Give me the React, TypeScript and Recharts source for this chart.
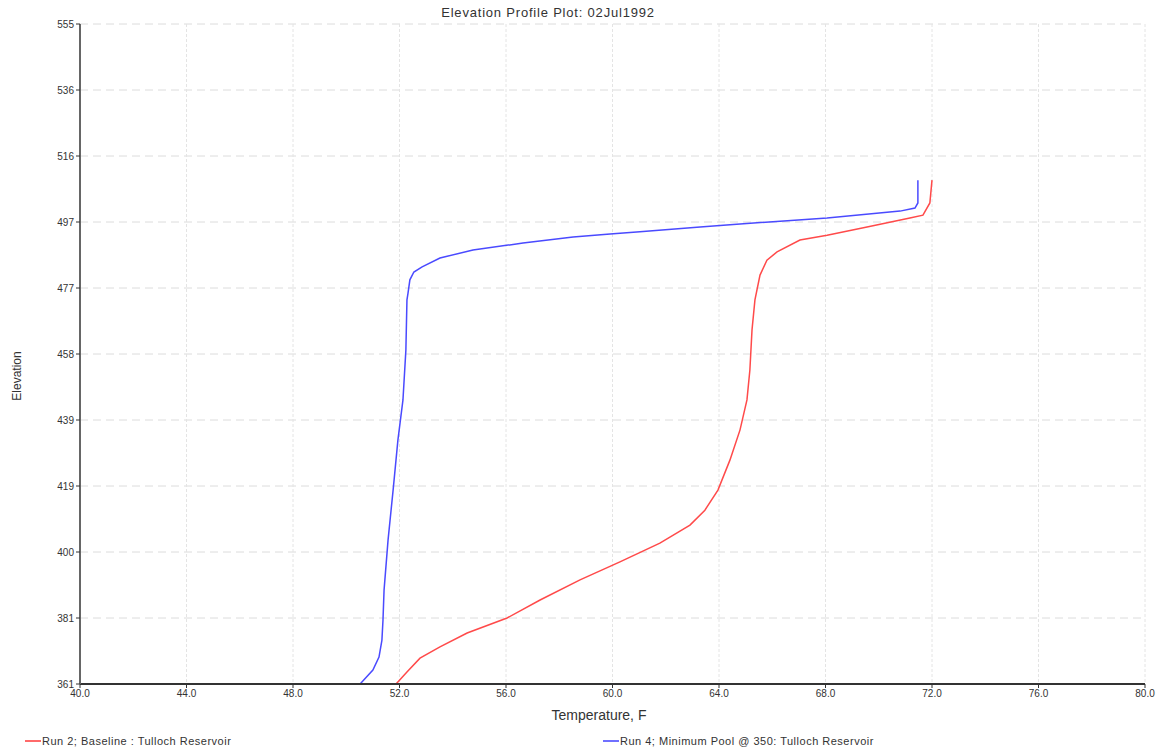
import React from 'react';
import { LineChart, Line, XAxis, YAxis, CartesianGrid } from 'recharts';

const xTicks = [40, 44, 48, 52, 56, 60, 64, 68, 72, 76, 80];
const yTickValues = [361, 380.4, 399.8, 419.2, 438.6, 458, 477.4, 496.8, 516.2, 535.6, 555];
const yTickLabels = ['361', '381', '400', '419', '439', '458', '477', '497', '516', '536', '555'];

// Run 4; Minimum Pool @ 350 (blue)
const run4Temp = [50.52, 51.0, 51.23, 51.34, 51.38, 51.42, 51.57, 51.76, 51.94, 52.13, 52.24, 52.28, 52.32, 52.39, 52.54, 52.85, 53.52, 54.76, 56.64, 58.52, 59.91, 61.03, 63.29, 64.79, 68.06, 70.8, 71.36, 71.47, 71.47];
const run4Elev = [361.0, 365.1, 368.9, 373.9, 379.8, 388.6, 403.3, 418.0, 432.7, 444.5, 459.2, 473.9, 475.9, 479.8, 482.1, 483.6, 486.2, 488.6, 490.6, 492.4, 493.3, 493.9, 495.3, 496.2, 498.0, 500.0, 500.9, 502.4, 509.1];

// Run 2; Baseline (red)
const run2Temp = [51.87, 52.28, 52.77, 53.52, 54.54, 56.04, 57.28, 58.78, 60.28, 61.78, 62.91, 63.47, 63.96, 64.41, 64.79, 65.05, 65.16, 65.24, 65.35, 65.54, 65.8, 66.18, 67.04, 68.06, 69.56, 71.17, 71.66, 71.92, 72.0];
const run2Elev = [361.0, 364.5, 368.6, 371.9, 376.0, 380.4, 385.7, 391.6, 396.9, 402.4, 407.7, 412.1, 418.0, 426.8, 435.7, 444.5, 453.3, 465.1, 473.9, 481.2, 485.6, 488.0, 491.5, 492.9, 495.3, 498.0, 498.8, 502.4, 509.1];

const run4Data = run4Temp.map((t, i) => ({ temp: t, elev: run4Elev[i] }));
const run2Data = run2Temp.map((t, i) => ({ temp: t, elev: run2Elev[i] }));

const FONT = '"Liberation Sans", Arial, sans-serif';
const tickStyle = { fontSize: 10, fill: '#333', fontFamily: FONT };

export default function App() {
  return (
    <div style={{ position: 'absolute', left: 0, top: 0, width: 1165, height: 756, background: '#fff', fontFamily: FONT }}>
      <LineChart width={1165} height={756} margin={{ top: 24, right: 20, left: 0, bottom: 0 }}>
        <CartesianGrid horizontal={true} vertical={false} stroke="#dcdcdc" strokeDasharray="8 5" />
        <CartesianGrid horizontal={false} vertical={true} stroke="#e4e4e4" strokeDasharray="3 2" />
        <XAxis
          type="number"
          dataKey="temp"
          domain={[40, 80]}
          ticks={xTicks}
          allowDataOverflow
          tickFormatter={(v: number) => v.toFixed(1)}
          tick={tickStyle}
          tickSize={4}
          height={72}
          axisLine={{ stroke: '#333', strokeWidth: 2 }}
          tickLine={{ stroke: '#333' }}
        />
        <XAxis
          xAxisId="top"
          orientation="top"
          type="number"
          domain={[40, 80]}
          ticks={xTicks}
          tick={false}
          tickLine={false}
          height={0}
          axisLine={{ stroke: '#888', strokeWidth: 2 }}
        />
        <YAxis
          type="number"
          dataKey="elev"
          domain={[361, 555]}
          ticks={yTickValues}
          allowDataOverflow
          interval={0}
          tickFormatter={(v: number, i: number) => yTickLabels[i]}
          tick={tickStyle}
          tickSize={4}
          width={80}
          axisLine={{ stroke: '#666', strokeWidth: 2 }}
          tickLine={{ stroke: '#333' }}
        />
        <YAxis
          yAxisId="right"
          orientation="right"
          type="number"
          domain={[361, 555]}
          tick={false}
          tickLine={false}
          width={0}
          axisLine={{ stroke: '#333', strokeWidth: 2 }}
        />
        <Line data={run2Data} dataKey="elev" type="linear" stroke="#ff4a4a" strokeWidth={1.5} dot={false} isAnimationActive={false} />
        <Line data={run4Data} dataKey="elev" type="linear" stroke="#4a4aff" strokeWidth={1.5} dot={false} isAnimationActive={false} />
      </LineChart>

      <div style={{ position: 'absolute', left: 0, top: 5, width: 1096, textAlign: 'center', fontSize: 13, letterSpacing: 0.8, color: '#333', lineHeight: '16px' }}>
        Elevation Profile Plot: 02Jul1992
      </div>

      <div style={{ position: 'absolute', left: 17, top: 376, width: 0, height: 0 }}>
        <div style={{ position: 'absolute', transform: 'translate(-50%, -50%) rotate(-90deg)', whiteSpace: 'nowrap', fontSize: 12, color: '#333', lineHeight: '14px' }}>
          Elevation
        </div>
      </div>

      <div style={{ position: 'absolute', left: 0, top: 707, width: 1198, textAlign: 'center', fontSize: 14, color: '#333', lineHeight: '16px' }}>
        Temperature, F
      </div>

      <div style={{ position: 'absolute', left: 25, top: 735, display: 'flex', alignItems: 'center', fontSize: 11, letterSpacing: 0.5, color: '#333', whiteSpace: 'nowrap' }}>
        <span style={{ display: 'inline-block', width: 16, height: 2, background: '#ff6a6a', marginRight: 1 }} />
        Run 2; Baseline : Tulloch Reservoir
      </div>

      <div style={{ position: 'absolute', left: 603, top: 735, display: 'flex', alignItems: 'center', fontSize: 11, letterSpacing: 0.5, color: '#333', whiteSpace: 'nowrap' }}>
        <span style={{ display: 'inline-block', width: 16, height: 2, background: '#7070ff', marginRight: 1 }} />
        Run 4; Minimum Pool @ 350: Tulloch Reservoir
      </div>
    </div>
  );
}
